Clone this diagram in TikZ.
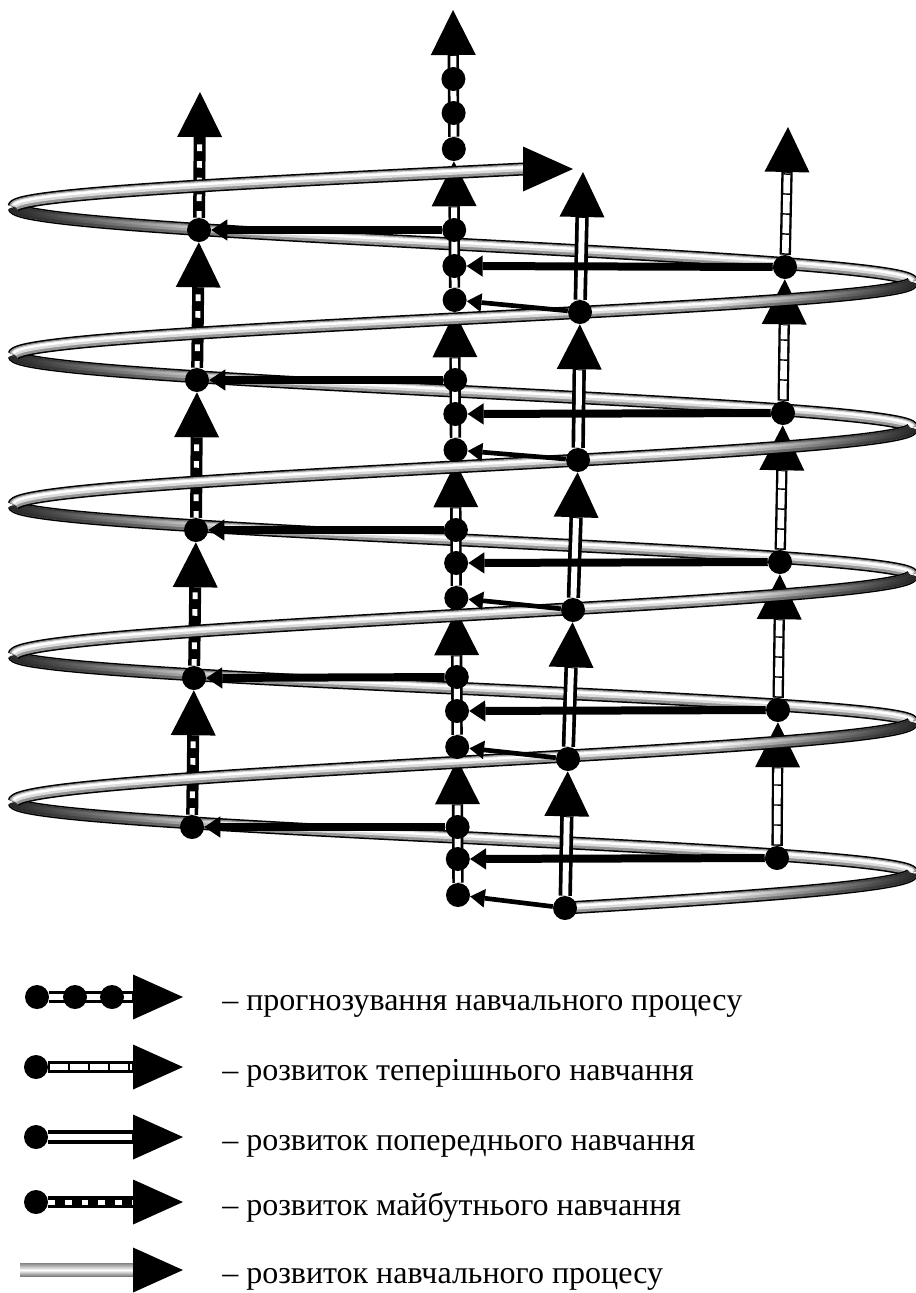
\documentclass[tikz,border=0pt]{standalone}
\usepackage{fontspec}
\setmainfont{Liberation Serif}
\usetikzlibrary{arrows.meta,fadings}
\pgfdeclarelayer{dcol}\pgfdeclarelayer{back}\pgfdeclarelayer{cols}\pgfdeclarelayer{front}
\pgfsetlayers{dcol,back,cols,front,main}
\tikzfading[name=darkleft, left color=transparent!0, right color=transparent!100]
\tikzfading[name=darkright, left color=transparent!100, right color=transparent!0]
\tikzset{
  dot/.style={circle,fill=black,inner sep=0pt,minimum size=18pt},
  bighead/.style={-{Triangle[length=33.75pt,width=33.75pt,line width=0pt]}},
  leghead/.style={-{Triangle[length=37.5pt,width=33.75pt,line width=0pt]}},
  bigin/.style={shorten >=34.5pt},
  legin/.style={shorten >=38.25pt},
  hbar/.style={line width=6pt,-{Triangle[length=12pt,width=16pt,line width=0pt]}},
  slant/.style={line width=3.5pt,-{Triangle[length=11pt,width=14pt,line width=0pt]}},
  legtext/.style={anchor=base west,inner sep=0pt,font=\fontsize{24pt}{28pt}\selectfont},
}
\newcommand\forecastarrow[4]{%
  \draw[line width=8.5pt,#1] (#3) -- (#4);
  \draw[white,line width=4.5pt,#2] (#3) -- (#4);}
\newcommand\presentarrow[4]{%
  \draw[line width=8.5pt,#1] (#3) -- (#4);
  \draw[white,line width=5pt,#2] (#3) -- (#4);
  \draw[line width=5.5pt,dash pattern=on 1.1pt off 13.9pt,#2] (#3) -- (#4);}
\newcommand\previousarrow[4]{%
  \draw[line width=10pt,#1] (#3) -- (#4);
  \draw[white,line width=4.5pt,#2] (#3) -- (#4);}
\newcommand\futurearrow[4]{%
  \draw[line width=9pt,#1] (#3) -- (#4);
  \draw[white,line width=3.75pt,dash pattern=on 5pt off 7.5pt,#2] (#3) -- (#4);}
% tube: #1 sign, #2 y start, #3 y end, #4 s0, #5 s1
\newcommand\tube[5]{%
  \draw[line width=9.75pt] plot[domain=#4:#5,samples=72,variable=\s] ({463+(#1)*449*cos(\s)},{#2+(#3-#2)*\s/180});
  \draw[line width=7.5pt,black!42] plot[domain=#4:#5,samples=72,variable=\s] ({463+(#1)*449*cos(\s)},{#2+(#3-#2)*\s/180});
  \draw[line width=4.5pt,black!14,yshift=0.6pt] plot[domain=#4:#5,samples=72,variable=\s] ({463+(#1)*449*cos(\s)},{#2+(#3-#2)*\s/180});
  \draw[line width=1.8pt,white,yshift=1.2pt] plot[domain=#4:#5,samples=72,variable=\s] ({463+(#1)*449*cos(\s)},{#2+(#3-#2)*\s/180});}
\newcommand\tubedark[6]{%
  \draw[line width=7.5pt,black!85,path fading=#6] plot[domain=#4:#5,samples=36,variable=\s] ({463+(#1)*449*cos(\s)},{#2+(#3-#2)*\s/180});}
\begin{document}
\begin{tikzpicture}[x=0.75pt,y=-0.75pt,line join=round]
\useasboundingbox (0,0) rectangle (915,1293);
% ---------- nodes ----------
\foreach \n/\x/\y in {A1/199/230,A2/197/380,A3/196/530,A4/194/678,A5/192/827,
  B01/453.4/79,B02/453.6/113,B03/453.8/149,
  B11/454.2/230,B12/454.4/266,B13/454.6/300,
  B21/455.1/380,B22/455.3/414,B23/455.5/450,
  B31/455.9/530,B32/456.1/563,B33/456.3/598,
  B41/456.8/677,B42/457/711,B43/457.2/747,
  B51/457.6/827,B52/457.8/859,B53/458/895,
  C1/580/312,C2/578/460,C3/573/610,C4/568/759,C5/565/908,
  D1/785/267,D2/783/413,D3/780/562,D4/778/710,D5/777/858,
  LA1/37/997,LA2/75/997,LA3/112/997,LB/36/1067,LC/36/1137,LD/36/1202}
  \node[dot] (\n) at (\x,\y) {};
\coordinate (At) at (200,92);
\coordinate (Bt) at (453,10);
\coordinate (Ct) at (583,172);
\coordinate (Dt) at (788,127);
\coordinate (LAt) at (183,997);
\coordinate (LBt) at (183,1067);
\coordinate (LCt) at (183,1137);
\coordinate (LDt) at (183,1202);
\coordinate (LEt) at (183,1270);
% ---------- present (ladder) column, behind the spiral ----------
\begin{pgfonlayer}{dcol}
  \presentarrow{bighead}{bigin}{D5}{D4}
  \presentarrow{bighead}{bigin}{D4}{D3}
  \presentarrow{bighead}{bigin}{D3}{D2}
  \presentarrow{bighead}{bigin}{D2}{D1}
  \presentarrow{bighead}{bigin}{D1}{Dt}
\end{pgfonlayer}
% ---------- back half-turns of the spiral ----------
\begin{pgfonlayer}{back}
  \foreach \ya/\yb in {873/802,722/655,575/505,428/355,282/207}{
    \tube{1}{\ya}{\yb}{0}{180}
    \tubedark{1}{\ya}{\yb}{118}{180}{darkleft}
  }
\end{pgfonlayer}
% ---------- columns A, B, C ----------
\begin{pgfonlayer}{cols}
  \futurearrow{bighead}{bigin}{A5}{A4}
  \futurearrow{bighead}{bigin}{A4}{A3}
  \futurearrow{bighead}{bigin}{A3}{A2}
  \futurearrow{bighead}{bigin}{A2}{A1}
  \futurearrow{bighead}{bigin}{A1}{At}
  \forecastarrow{bighead}{bigin}{B53}{B43}
  \forecastarrow{bighead}{bigin}{B43}{B33}
  \forecastarrow{bighead}{bigin}{B33}{B23}
  \forecastarrow{bighead}{bigin}{B23}{B13}
  \forecastarrow{bighead}{bigin}{B13}{B03}
  \forecastarrow{bighead}{bigin}{B03}{Bt}
  \previousarrow{bighead}{bigin}{C5}{C4}
  \previousarrow{bighead}{bigin}{C4}{C3}
  \previousarrow{bighead}{bigin}{C3}{C2}
  \previousarrow{bighead}{bigin}{C2}{C1}
  \previousarrow{bighead}{bigin}{C1}{Ct}
  % legend connectors
  \forecastarrow{leghead}{legin}{LA1}{LAt}
  \presentarrow{leghead}{legin}{LB}{LBt}
  \previousarrow{leghead}{legin}{LC}{LCt}
  \futurearrow{leghead}{legin}{LD}{LDt}
\end{pgfonlayer}
% ---------- front half-turns ----------
\begin{pgfonlayer}{front}
  \tube{-1}{955}{873}{103.4}{180}
  \tubedark{-1}{955}{873}{125}{180}{darkright}
  \foreach \ya/\yb in {802/722,655/575,505/428,355/282}{
    \tube{-1}{\ya}{\yb}{0}{180}
    \tubedark{-1}{\ya}{\yb}{125}{180}{darkright}
  }
  \tube{-1}{207}{137}{0}{97.7}
\end{pgfonlayer}
% spiral arrowhead
\fill (523,146.5) -- (573,169) -- (523,191.5) -- cycle;
% ---------- horizontal and slanted arrows ----------
\foreach \k in {1,...,5}{
  \draw[hbar] (B\k1) -- (A\k);
  \draw[hbar] (D\k) -- (B\k2);
  \draw[slant] (C\k) -- (B\k3);
}
% ---------- legend ----------
\shade[top color=black!45,bottom color=black!55,middle color=white] (20,1263.5) rectangle (138,1276.5);
\fill (133,1247.5) -- (LEt) -- (133,1292.5) -- cycle;
\node[legtext] (T1) at (222,1010) {– прогнозування навчального процесу};
\node[legtext] (T2) at (222,1080) {– розвиток теперішнього навчання};
\node[legtext] (T3) at (222,1150) {– розвиток попереднього навчання};
\node[legtext] (T4) at (222,1215) {– розвиток майбутнього навчання};
\node[legtext] (T5) at (222,1283) {– розвиток навчального процесу};
\end{tikzpicture}
\end{document}
